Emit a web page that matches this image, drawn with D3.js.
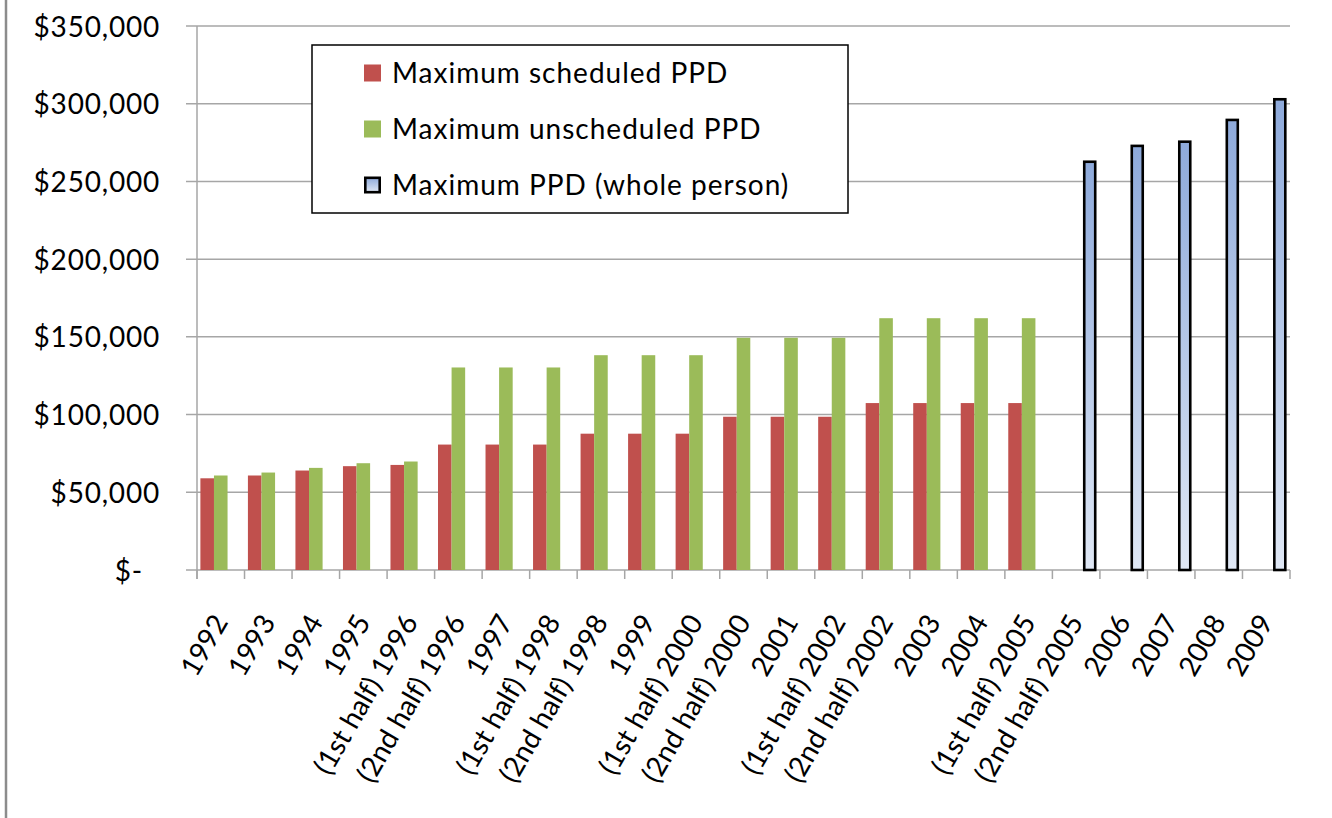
<!DOCTYPE html>
<html>
<head>
<meta charset="utf-8">
<script src="https://cdn.jsdelivr.net/npm/d3@7"></script>
<style>
  body { margin: 0; background: #fff; }
  svg { display: block; font-family: Lato, "Open Sans", sans-serif; }
</style>
</head>
<body>
<div id="chart"></div>
<script>
/* global d3 */

// categories along the x axis
var categories = [
  "1992", "1993", "1994", "1995",
  "(1st half) 1996", "(2nd half) 1996", "1997",
  "(1st half) 1998", "(2nd half) 1998", "1999",
  "(1st half) 2000", "(2nd half) 2000", "2001",
  "(1st half) 2002", "(2nd half) 2002", "2003", "2004",
  "(1st half) 2005", "(2nd half) 2005",
  "2006", "2007", "2008", "2009"
];

var seriesNames = ["Maximum scheduled PPD", "Maximum unscheduled PPD", "Maximum PPD (whole person)"];

var scheduled = [59000, 60800, 64000, 66800, 67600, 80700, 80700, 80700, 87700, 87700,
  87700, 98600, 98600, 98600, 107400, 107400, 107400, 107400, null, null, null, null, null];

var unscheduled = [60800, 62700, 65700, 68700, 69800, 130300, 130300, 130300, 138200, 138200,
  138200, 149400, 149400, 149400, 162000, 162000, 162000, 162000, null, null, null, null, null];

var wholePerson = [null, null, null, null, null, null, null, null, null, null, null, null,
  null, null, null, null, null, null, 263500, 273700, 276400, 290400, 303700];

var yTicks = [0, 50000, 100000, 150000, 200000, 250000, 300000, 350000];

var margin = {top: 26, right: 42, bottom: 248, left: 197},
  width = 1332,
  height = 818,
  innerWidth = width - margin.left - margin.right,
  innerHeight = height - margin.top - margin.bottom;

var colors = ["#c0504d", "#9bbb59", "url(#blueGrad)"];
var gridColor = "#a6a6a6";
var fontSize = "28px";

var svg = d3.select("#chart").append("svg")
  .attr("width", width)
  .attr("height", height);

svg.append("rect").attr("width", width).attr("height", height).attr("fill", "#fff");

var defs = svg.append("defs");
var grad = defs.append("linearGradient")
  .attr("id", "blueGrad")
  .attr("x1", 0).attr("y1", 0).attr("x2", 0).attr("y2", 1);
grad.append("stop").attr("offset", "0%").attr("stop-color", "#8eaadb");
grad.append("stop").attr("offset", "100%").attr("stop-color", "#e0e8f5");

// the grey frame edge on the left
svg.append("line")
  .attr("x1", 6).attr("x2", 6)
  .attr("y1", 0).attr("y2", height)
  .attr("stroke", "#8c8c8c")
  .attr("stroke-width", 2.5);

var g = svg.append("g")
  .attr("transform", "translate(" + margin.left + "," + margin.top + ")");

var x0 = d3.scaleBand()
  .domain(categories)
  .range([0, innerWidth])
  .padding(0);

var x1 = d3.scaleBand()
  .domain(d3.range(3))
  .range([0, x0.bandwidth()])
  .paddingInner(0)
  .paddingOuter(0.25);

var y = d3.scaleLinear()
  .domain([0, 350000])
  .range([innerHeight, 0]);

// gridlines (they also serve as outer tick marks on the left)
g.append("g").attr("class", "grid")
  .selectAll("line")
  .data(yTicks)
  .enter().append("line")
  .attr("x1", -11)
  .attr("x2", innerWidth)
  .attr("y1", function(d) { return y(d); })
  .attr("y2", function(d) { return y(d); })
  .attr("stroke", gridColor)
  .attr("stroke-width", 1.5);

// y axis labels
var yAxis = g.append("g").attr("class", "y axis")
  .call(d3.axisLeft(y)
    .tickValues(yTicks)
    .tickSize(0)
    .tickPadding(37)
    .tickFormat(function(d) { return d === 0 ? "$-" : "$" + d3.format(",")(d); }));
yAxis.attr("font-family", null).attr("font-size", null);
yAxis.select(".domain").remove();
yAxis.selectAll("text")
  .attr("fill", "#000")
  .style("font-size", fontSize)
  .style("letter-spacing", "0.8px")
  .attr("dy", "0.36em");
yAxis.selectAll(".tick").filter(function(d) { return d === 0; })
  .select("text").attr("dx", -17);

// y axis line, running down to the x tick length
g.append("line")
  .attr("x1", 0).attr("x2", 0)
  .attr("y1", 0).attr("y2", innerHeight + 9)
  .attr("stroke", gridColor)
  .attr("stroke-width", 1.5);

// x tick marks at category boundaries
var bounds = categories.map(function(c) { return x0(c); }).concat([innerWidth]);
g.append("g").attr("class", "x ticks")
  .selectAll("line")
  .data(bounds)
  .enter().append("line")
  .attr("x1", function(d) { return d; })
  .attr("x2", function(d) { return d; })
  .attr("y1", innerHeight)
  .attr("y2", innerHeight + 9)
  .attr("stroke", gridColor)
  .attr("stroke-width", 1.5);

// x axis labels, rotated
var xAxis = g.append("g").attr("class", "x axis")
  .attr("transform", "translate(0," + innerHeight + ")")
  .call(d3.axisBottom(x0).tickSize(0));
xAxis.attr("font-family", null).attr("font-size", null);
xAxis.select(".domain").remove();
xAxis.selectAll("text")
  .attr("fill", "#000")
  .style("font-size", fontSize)
  .attr("text-anchor", "end")
  .attr("x", 8)
  .attr("y", 52)
  .attr("dy", 0)
  .attr("transform", "rotate(-60, 8, 52)");

// bars
var seriesData = [scheduled, unscheduled, wholePerson];
seriesData.forEach(function(values, s) {
  var pts = values.map(function(v, i) { return {cat: categories[i], value: v}; })
    .filter(function(d) { return d.value !== null; });

  var bars = g.append("g").attr("class", "series-" + s)
    .selectAll("rect")
    .data(pts)
    .enter().append("rect")
    .attr("fill", colors[s]);

  if (s < 2) {
    bars
      .attr("x", function(d) { return x0(d.cat) + x1(s); })
      .attr("y", function(d) { return y(d.value); })
      .attr("width", x1.bandwidth())
      .attr("height", function(d) { return innerHeight - y(d.value); });
  } else {
    // outlined bars: keep the stroke inside the slot
    var sw = 2.6;
    bars
      .attr("x", function(d) { return x0(d.cat) + x1(s) + sw / 2; })
      .attr("y", function(d) { return y(d.value) + sw / 2; })
      .attr("width", x1.bandwidth() - sw)
      .attr("height", function(d) { return innerHeight - y(d.value) - sw / 2; })
      .attr("stroke", "#000")
      .attr("stroke-width", sw);
  }
});

// legend
var legend = svg.append("g").attr("class", "legend")
  .attr("transform", "translate(312,45)");

legend.append("rect")
  .attr("width", 536)
  .attr("height", 168)
  .attr("fill", "#fff")
  .attr("stroke", "#000")
  .attr("stroke-width", 1.5);

var items = legend.selectAll(".item")
  .data(seriesNames)
  .enter().append("g")
  .attr("class", "item")
  .attr("transform", function(d, i) { return "translate(0," + (28 + i * 56) + ")"; });

items.append("rect")
  .attr("x", function(d, i) { return i === 2 ? 53.3 : 52; })
  .attr("y", function(d, i) { return i === 2 ? -7.2 : -8.5; })
  .attr("width", function(d, i) { return i === 2 ? 14.4 : 17; })
  .attr("height", function(d, i) { return i === 2 ? 14.4 : 17; })
  .attr("fill", function(d, i) { return colors[i]; })
  .attr("stroke", function(d, i) { return i === 2 ? "#000" : "none"; })
  .attr("stroke-width", 2.6);

items.append("text")
  .attr("x", 80)
  .attr("dy", "0.36em")
  .style("font-size", fontSize)
  .style("letter-spacing", "1px")
  .attr("fill", "#000")
  .text(function(d) { return d; });
</script>
</body>
</html>
